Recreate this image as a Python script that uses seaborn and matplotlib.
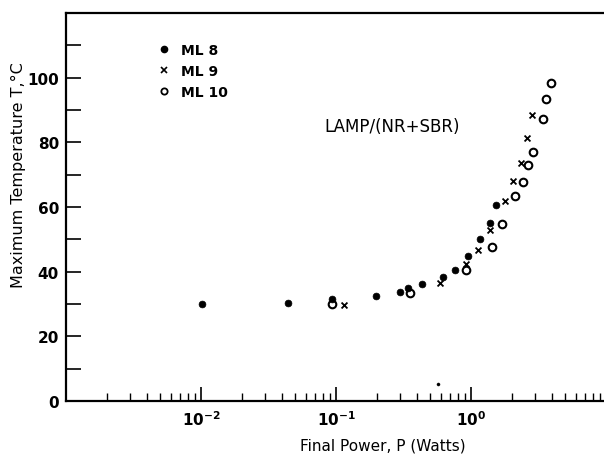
import matplotlib
matplotlib.use('Agg')
import matplotlib.pyplot as plt
import seaborn as sns
from matplotlib.ticker import LogLocator, NullFormatter, MultipleLocator
from matplotlib.lines import Line2D

# ---- data ----
ml8_power = [0.0102, 0.0444, 0.093, 0.197, 0.296, 0.341, 0.431, 0.624, 0.760, 0.946, 1.16, 1.38, 1.54]
ml8_temp = [30.0, 30.3, 31.6, 32.4, 33.8, 34.9, 36.2, 38.3, 40.6, 44.8, 50.2, 55.1, 60.7]

ml9_power = [0.114, 0.589, 0.922, 1.13, 1.38, 1.79, 2.06, 2.36, 2.58, 2.84]
ml9_temp = [29.8, 36.5, 42.4, 46.8, 53.0, 62.0, 68.0, 73.6, 81.4, 88.5]

ml10_power = [0.093, 0.353, 0.922, 1.44, 1.70, 2.12, 2.43, 2.66, 2.88, 3.41, 3.57, 3.94]
ml10_temp = [30.0, 33.3, 40.6, 47.6, 54.6, 63.3, 67.7, 72.9, 77.0, 87.3, 93.3, 98.4]

stray_power = [0.573]
stray_temp = [5.3]

series_labels = ['ML 8', 'ML 9', 'ML 10']
x_tick_values = [1e-2, 1e-1, 1e0]
x_tick_labels = ['$10^{-2}$', '$10^{-1}$', '$10^{0}$']
y_tick_values = [0, 20, 40, 60, 80, 100]

# ---- style ----
sns.set_style('ticks')
plt.rcParams['font.family'] = ['DejaVu Sans']
plt.rcParams['mathtext.default'] = 'regular'
for key in ['text.color', 'axes.labelcolor', 'xtick.color', 'ytick.color', 'axes.edgecolor']:
    plt.rcParams[key] = 'black'

fig = plt.figure(figsize=(6.04, 4.56), dpi=100)
ax = fig.add_axes([66 / 604, 54 / 456, 538 / 604, 388 / 456])

sns.scatterplot(x=ml10_power, y=ml10_temp, ax=ax, marker='o', s=30,
                facecolor='white', edgecolor='black', color='black', linewidth=1.5, zorder=3)
sns.scatterplot(x=ml9_power, y=ml9_temp, ax=ax, marker='x', s=18,
                color='black', linewidth=1.3, zorder=3)
sns.scatterplot(x=ml8_power, y=ml8_temp, ax=ax, marker='o', s=24,
                color='black', edgecolor='black', linewidth=0.5, zorder=4)
sns.scatterplot(x=stray_power, y=stray_temp, ax=ax, marker='o', s=5,
                color='black', edgecolor='black', linewidth=0.3, zorder=4)

ax.set_xscale('log')
ax.set_xlim(1e-3, 9.66)
ax.set_ylim(0, 120)

ax.set_xticks(x_tick_values, labels=x_tick_labels)
ax.xaxis.set_minor_locator(LogLocator(base=10, subs=range(2, 10), numticks=30))
ax.xaxis.set_minor_formatter(NullFormatter())
ax.set_yticks(y_tick_values)
ax.yaxis.set_minor_locator(MultipleLocator(10))

ax.tick_params(axis='x', which='major', direction='in', length=10, width=1.2,
               pad=6, labelsize=11, colors='black')
ax.tick_params(axis='x', which='minor', direction='in', length=6, width=1.0)
ax.tick_params(axis='y', which='both', direction='in', length=11, width=1.2,
               pad=5, labelsize=11, colors='black')
for lab in ax.get_yticklabels() + ax.get_xticklabels():
    lab.set_fontweight('bold')

for side in ['left', 'bottom', 'top']:
    ax.spines[side].set_linewidth(1.6)
    ax.spines[side].set_color('black')
ax.spines['right'].set_visible(False)

ax.set_xlabel('Final Power, P (Watts)', fontsize=11, color='black')
ax.xaxis.set_label_coords(0.589, -0.095)
ax.set_ylabel('Maximum Temperature T,°C', fontsize=11.5, color='black')
ax.yaxis.set_label_coords(-0.075, 0.585)

ax.text(0.606, 0.709, 'LAMP/(NR+SBR)', transform=ax.transAxes,
        ha='center', va='center', fontsize=12, color='black')

h8 = Line2D([], [], marker='o', ls='none', color='black', markersize=4.5)
h9 = Line2D([], [], marker='x', ls='none', color='black', markersize=4.5, markeredgewidth=1.2)
h10 = Line2D([], [], marker='o', ls='none', markerfacecolor='white',
             markeredgecolor='black', markersize=4.5, markeredgewidth=1.3)
leg = ax.legend([h8, h9, h10], series_labels, loc='upper left',
                bbox_to_anchor=(160 / 604, 1 - 44 / 456), bbox_transform=fig.transFigure,
                frameon=False, handlelength=0.6, handletextpad=0.9, labelspacing=0.5,
                borderpad=0, borderaxespad=0, prop={'weight': 'bold', 'size': 10})
for t in leg.get_texts():
    t.set_color('black')

fig.savefig('out.png', dpi=100)
